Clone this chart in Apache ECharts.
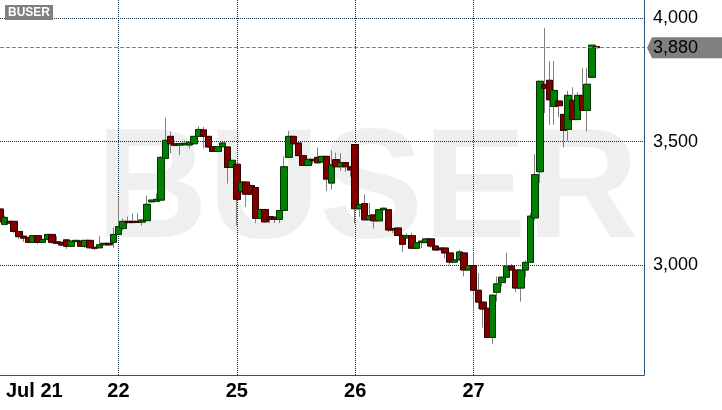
<!DOCTYPE html>
<html><head><meta charset="utf-8">
<script src="https://cdn.jsdelivr.net/npm/echarts@6/dist/echarts.min.js"></script>
<style>html,body{margin:0;padding:0;background:#fff}#c{width:722px;height:410px}</style>
</head><body><div id="c"></div>
<script>
const symbolName = 'BUSER';
const dayLabels = ['Jul 21', '22', '25', '26', '27'];
const dayStartIndex = [0, 25, 50, 75, 100];
const yTickValues = [3000, 3500, 4000];
const lastPrice = 3880;
const slotCount = 137;

const open = [3227,3165,3177,3177,3136,3117,3112,3092,3119,3092,
3104,3124,3094,3092,3102,3076,3095,3097,3076,3100,
3072,3070,3082,3088,3092,
3124,3148,3177,3177,3177,3174,3180,3256,3258,3263,
3432,3521,3491,3486,3487,3486,3491,3521,3547,3521,
3479,3460,3479,3478,3395,
3408,3298,3336,3322,3314,3189,3225,3196,3194,3185,
3221,3436,3521,3494,3443,3403,3428,3436,3417,3440,
3332,3427,3398,3415,3398,
3488,3228,3249,3183,3203,3179,3224,3224,3148,3150,
3120,3110,3119,3068,3091,3091,3106,3077,3069,3069,
3049,3012,3021,3049,2980,
2998,2898,2850,2825,2707,2890,2929,2951,2996,2980,
2907,2980,3011,3191,3378,3731,3748,3642,3664,3610,
3549,3667,3589,3687,3626,3760,3884];

const close = [3175,3193,3170,3136,3115,3109,3092,3119,3092,3104,
3124,3092,3088,3081,3076,3097,3100,3076,3100,3070,
3068,3082,3088,3082,3124,
3156,3177,3172,3172,3173,3182,3246,3263,3266,3436,
3505,3491,3485,3492,3493,3497,3521,3549,3521,3478,
3460,3479,3494,3395,3424,
3266,3336,3287,3287,3189,3225,3175,3185,3185,3221,
3398,3521,3491,3443,3403,3428,3422,3414,3440,3348,
3406,3398,3415,3398,3385,
3228,3245,3183,3200,3179,3224,3230,3142,3142,3120,
3084,3119,3068,3091,3097,3106,3077,3061,3062,3049,
3012,3021,3053,2980,2998,
2898,2850,2822,2707,2878,2924,2951,2996,2980,2907,
2980,3011,3198,3366,3744,3715,3669,3707,3645,3545,
3687,3589,3687,3626,3732,3890,3880];

const low = [3170,3160,3165,3130,3105,3094,3088,3090,3085,3090,
3100,3086,3086,3078,3066,3074,3093,3074,3070,3067,
3060,3068,3080,3079,3070,
3120,3140,3168,3170,3170,3160,3178,3254,3256,3260,
3430,3452,3480,3445,3485,3472,3489,3519,3472,3476,
3458,3458,3477,3330,3393,
3159,3290,3236,3285,3170,3185,3170,3170,3170,3170,
3219,3434,3489,3441,3401,3400,3408,3410,3415,3300,
3306,3396,3381,3378,3358,
3168,3195,3181,3181,3148,3177,3222,3134,3130,3118,
3053,3108,3066,3066,3069,3089,3069,3059,3060,3026,
3001,3010,3019,2954,2978,
2820,2822,2747,2707,2680,2852,2913,2949,2978,2890,
2852,2950,3009,3180,3333,3615,3568,3568,3598,3476,
3503,3587,3587,3624,3541,3758,3878];

const high = [3235,3200,3180,3180,3138,3120,3114,3121,3121,3106,
3126,3126,3117,3094,3104,3099,3102,3099,3102,3102,
3074,3117,3090,3090,3152,
3274,3189,3196,3209,3209,3184,3281,3265,3290,3440,
3596,3540,3493,3494,3495,3499,3523,3563,3560,3523,
3481,3481,3496,3480,3426,
3410,3340,3340,3326,3316,3228,3228,3198,3196,3224,
3440,3543,3523,3496,3445,3430,3430,3476,3442,3442,
3465,3455,3453,3417,3400,
3490,3248,3286,3252,3205,3226,3232,3226,3150,3152,
3122,3130,3130,3093,3099,3108,3108,3079,3071,3071,
3051,3023,3062,3051,3000,
3053,2967,2852,2827,2880,2954,2953,3050,3005,2982,
2982,3020,3211,3449,3746,3960,3825,3825,3666,3612,
3706,3720,3700,3797,3797,3892,3886];

const categories = Array.from({length: slotCount}, (_, i) => 'slot' + i);
const labelFor = {};
dayStartIndex.forEach((idx, k) => { labelFor[idx] = dayLabels[k]; });
const ohlc = open.map((o, i) => [o, close[i], low[i], high[i]]);
const bodies = open.map((o, i) => [o, close[i], Math.min(o, close[i]), Math.max(o, close[i])]);

const gridLine = '#10283c';
const axisColor = '#2b5580';
const fmt = v => v.toLocaleString('en-US');

const chart = echarts.init(document.getElementById('c'), null, {renderer: 'canvas'});
chart.setOption({
  animation: false,
  backgroundColor: '#ffffff',
  grid: {left: 0, right: 78, top: 0, bottom: 35, outerBoundsMode: 'none'},
  xAxis: {
    type: 'category', data: categories, boundaryGap: false,
    axisLine: {show: true, lineStyle: {color: axisColor, width: 1}},
    axisTick: {show: false},
    axisLabel: {
      interval: (i) => (i in labelFor),
      formatter: (v, i) => i === 0 ? '{f|' + labelFor[i] + '}' : (labelFor[i] || ''),
      color: '#000', fontSize: 20, fontWeight: 'bold', fontFamily: 'Liberation Sans', margin: 6,
      alignMinLabel: 'left',
      rich: {f: {color: '#000', fontSize: 20, fontWeight: 'bold', fontFamily: 'Liberation Sans', padding: [0, 0, 0, 6]}}
    },
    splitLine: {show: true, interval: (i) => i > 0 && (i in labelFor), lineStyle: {type: [1, 1], color: gridLine, width: 1}}
  },
  yAxis: {
    type: 'value', position: 'right', min: 2555, max: 4073,
    axisLine: {show: true, lineStyle: {color: axisColor, width: 1}},
    axisTick: {show: false, customValues: yTickValues},
    axisLabel: {customValues: yTickValues, formatter: fmt, color: '#000', fontSize: 18, fontFamily: 'Liberation Sans', margin: 9},
    splitLine: {show: true, lineStyle: {type: [1, 1], color: gridLine, width: 1}}
  },
  series: [
    {type: 'candlestick', name: 'range', data: ohlc, barWidth: 7, silent: true, z: 2,
     itemStyle: {color: 'transparent', color0: 'transparent', borderColor: '#808080', borderColor0: '#808080', borderColorDoji: '#808080', borderWidth: 1}},
    {type: 'candlestick', name: 'body', data: bodies, barWidth: 7, silent: true, z: 3,
     itemStyle: {color: '#008000', color0: '#800000', borderColor: '#003300', borderColor0: '#330000', borderColorDoji: '#330000', borderWidth: 1},
     markLine: {symbol: 'none', silent: true, data: [{yAxis: lastPrice}],
       lineStyle: {color: '#808080', type: [4, 2], width: 1}, label: {show: false}}}
  ]
});

// watermark, symbol tag and price tag; the price tag is placed from the axis scales
const yPix = chart.convertToPixel({yAxisIndex: 0}, lastPrice);
const xRight = chart.convertToPixel({xAxisIndex: 0}, slotCount - 1);
const h = 10.5;
chart.setOption({graphic: {elements: [
  {type: 'text', left: 96, top: 117, z: -100, silent: true,
   style: {text: symbolName, font: 'bold 155px "Liberation Sans"', fill: '#efefef'}},
  {type: 'text', left: 5, top: 5, z: 100, silent: true,
   style: {text: symbolName, font: 'bold 12px "Liberation Sans"', fill: '#ffffff', backgroundColor: '#808080', padding: [2, 3, 1, 3]}},
  {type: 'polygon', z: 100, silent: true,
   shape: {points: [[xRight + 3, yPix], [xRight + 8, yPix - h], [722, yPix - h], [722, yPix + h], [xRight + 8, yPix + h]]},
   style: {fill: '#808080'}},
  {type: 'text', z: 101, silent: true, x: xRight + 9, y: yPix,
   style: {text: fmt(lastPrice), font: '18px "Liberation Sans"', fill: '#000', verticalAlign: 'middle', align: 'left'}}
]}});
</script>
</body></html>
